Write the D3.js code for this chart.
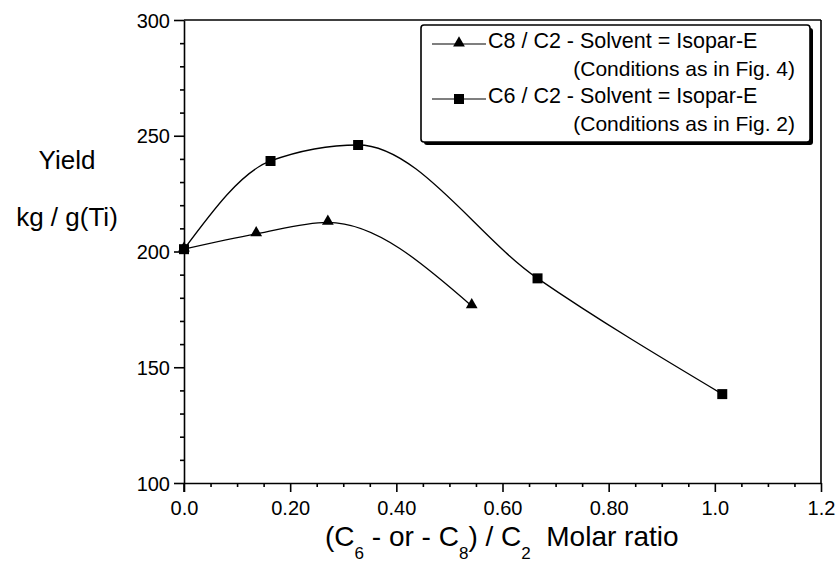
<!DOCTYPE html>
<meta charset="utf-8">
<style>
body { margin: 0; background: #fff; }
text { font-family: "Liberation Sans", Arial, sans-serif; fill: #000; }
.axis path, .axis line { stroke: #000; stroke-width: 1.6px; }
.axis text { font-size: 20px; }
.curve { fill: none; stroke: #000; stroke-width: 1.3px; }
</style>
<svg width="839" height="569"></svg>
<script src="https://cdn.jsdelivr.net/npm/d3@7"></script>
<script>

var svg = d3.select("svg");

var c8x = [0.0, 0.136, 0.271, 0.542],
    c8y = [201, 207.6, 212.6, 176.5];
var c6x = [0.0, 0.163, 0.328, 0.666, 1.014],
    c6y = [201, 239.1, 246.0, 188.4, 138.4];
var xTicks = [0, 0.2, 0.4, 0.6, 0.8, 1.0, 1.2],
    xTickLabels = ["0.0", "0.20", "0.40", "0.60", "0.80", "1.0", "1.2"];
var yTicks = [100, 150, 200, 250, 300];
var legendLabels = [
  ["C8 / C2 - Solvent = Isopar-E", "(Conditions as in Fig. 4)"],
  ["C6 / C2 - Solvent = Isopar-E", "(Conditions as in Fig. 2)"]
];

var x = d3.scaleLinear().domain([0, 1.2]).range([184, 821]),
    y = d3.scaleLinear().domain([100, 300]).range([483, 20]);

// minor ticks
var xMinor = d3.range(0, 1.2001, 0.05).filter(function(v) { return Math.abs(v * 5 - Math.round(v * 5)) > 1e-6; });
var yMinor = d3.range(100, 301, 10).filter(function(v) { return v % 50 != 0; });

svg.append("g").attr("class", "axis")
    .attr("transform", "translate(0," + y(100) + ")")
    .call(d3.axisBottom(x).tickValues(xMinor).tickSize(4).tickFormat(""))
    .select(".domain").remove();
svg.append("g").attr("class", "axis")
    .attr("transform", "translate(" + x(0) + ",0)")
    .call(d3.axisLeft(y).tickValues(yMinor).tickSize(4).tickFormat(""))
    .select(".domain").remove();

var xAxis = svg.append("g").attr("class", "axis")
    .attr("transform", "translate(0," + y(100) + ")")
    .call(d3.axisBottom(x).tickValues(xTicks).tickSizeInner(9).tickSizeOuter(0).tickPadding(9)
      .tickFormat(function(d, i) { return xTickLabels[i]; }));

var yAxis = svg.append("g").attr("class", "axis")
    .attr("transform", "translate(" + x(0) + ",0)")
    .call(d3.axisLeft(y).tickValues(yTicks).tickSizeInner(10).tickSizeOuter(0).tickPadding(4));
yAxis.selectAll("text").attr("dy", "0.36em");

// y axis goes down to the x tick length, frame top & right
svg.append("line").attr("x1", x(0)).attr("x2", x(0)).attr("y1", y(100)).attr("y2", y(100) + 9)
    .attr("stroke", "#000").attr("stroke-width", 1.6);
svg.append("line").attr("x1", x(0)).attr("x2", x(1.2)).attr("y1", y(300)).attr("y2", y(300))
    .attr("stroke", "#000").attr("stroke-width", 1.6);
svg.append("line").attr("x1", x(1.2)).attr("x2", x(1.2)).attr("y1", y(300)).attr("y2", y(100))
    .attr("stroke", "#000").attr("stroke-width", 1.6);

// curves
var line = d3.line()
    .x(function(d) { return x(d[0]); })
    .y(function(d) { return y(d[1]); })
    .curve(d3.curveMonotoneX);

var c8 = d3.zip(c8x, c8y), c6 = d3.zip(c6x, c6y);

svg.append("path").attr("class", "curve").attr("d", line(c8));
svg.append("path").attr("class", "curve").attr("d", line(c6));

var tri = d3.symbol().type(d3.symbolTriangle).size(60),
    sq = d3.symbol().type(d3.symbolSquare).size(100);

svg.selectAll(".tri").data(c8).enter().append("path")
    .attr("class", "tri")
    .attr("d", tri)
    .attr("transform", function(d) { return "translate(" + x(d[0]) + "," + (y(d[1]) - 1) + ")"; });
svg.selectAll(".sq").data(c6).enter().append("path")
    .attr("class", "sq")
    .attr("d", sq)
    .attr("transform", function(d) { return "translate(" + x(d[0]) + "," + y(d[1]) + ")"; });

// axis titles
var xt = svg.append("text").attr("x", 325).attr("y", 546).style("font-size", "28px");
xt.append("tspan").text("(C");
xt.append("tspan").text("6").style("font-size", "17px").attr("dy", 13);
xt.append("tspan").text(" - or - C").attr("dy", -13);
xt.append("tspan").text("8").style("font-size", "17px").attr("dy", 13);
xt.append("tspan").text(") / C").attr("dy", -13);
xt.append("tspan").text("2").style("font-size", "17px").attr("dy", 13);
xt.append("tspan").text("\u00a0\u00a0Molar ratio").attr("dy", -13);

svg.append("text").attr("x", 67).attr("y", 169).attr("text-anchor", "middle")
    .style("font-size", "26px").text("Yield");
svg.append("text").attr("x", 67).attr("y", 226).attr("text-anchor", "middle")
    .style("font-size", "26px").text("kg / g(Ti)");

// legend box with shadow
var lg = svg.append("g");
lg.append("rect").attr("x", 424).attr("y", 28).attr("width", 389).attr("height", 117)
    .attr("fill", "#000").attr("rx", 3);
lg.append("rect").attr("x", 421).attr("y", 25).attr("width", 389).attr("height", 117)
    .attr("fill", "#fff").attr("stroke", "#000").attr("stroke-width", 1.6).attr("rx", 3);

var rows = [{sym: tri, y: 44, dy: -1}, {sym: sq, y: 99, dy: 0}];
rows.forEach(function(r, i) {
  lg.append("line").attr("x1", 432).attr("x2", 486).attr("y1", r.y).attr("y2", r.y)
      .attr("stroke", "#000").attr("stroke-width", 1.2);
  lg.append("path").attr("d", r.sym).attr("transform", "translate(459," + (r.y + r.dy) + ")");
  lg.append("text").attr("x", 488).attr("y", r.y + 4).style("font-size", "21.5px").text(legendLabels[i][0]);
  lg.append("text").attr("x", 795).attr("y", r.y + 32).attr("text-anchor", "end")
      .style("font-size", "21px").text(legendLabels[i][1]);
});

</script>
